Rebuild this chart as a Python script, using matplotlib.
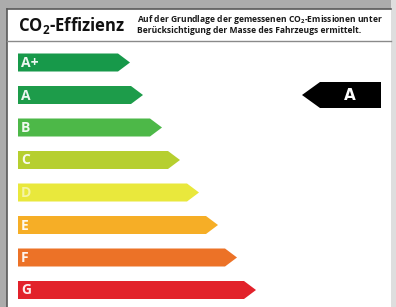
import matplotlib
matplotlib.use("Agg")
import matplotlib.pyplot as plt
from matplotlib.patches import Polygon, Rectangle

# ---- data ----
classes = ["A+", "A", "B", "C", "D", "E", "F", "G"]
bar_ends = [130, 143, 162, 180, 199, 218, 237, 256]   # tip extent of each class arrow
colors = ["#17994a", "#1d9c4a", "#4db848", "#b6cf2f", "#e9e83c", "#f6ae26", "#ec7227", "#e2222b"]
rating = "A"
title = "CO$_\\mathbf{2}$-Effizienz"
subtitle = ["Auf der Grundlage der gemessenen CO$_\\mathbf{2}$-Emissionen unter",
            "Berücksichtigung der Masse des Fahrzeugs ermittelt."]

plt.rcParams["mathtext.fontset"] = "custom"
plt.rcParams["mathtext.bf"] = "Open Sans:bold"
plt.rcParams["mathtext.rm"] = "Open Sans:bold"

W, H = 396, 307
fig = plt.figure(figsize=(W / 100, H / 100), dpi=100, facecolor="#acacac")
ax = fig.add_axes([0, 0, 1, 1])
ax.set_xlim(0, W)
ax.set_ylim(H, 0)
ax.axis("off")

# panel
ax.add_patch(Rectangle((7, 9), 384, 310, facecolor="white", edgecolor="none", zorder=1))
ax.plot([7, 391], [9, 9], color="#5a5a5a", lw=1.2, zorder=2)
ax.plot([7, 7], [9, 307], color="#5a5a5a", lw=1.2, zorder=2)
ax.plot([7, 391], [40.5, 40.5], color="#8a8a8a", lw=1.0, zorder=2)
ax.add_patch(Rectangle((391, 0), 5, 307, facecolor="#dedede", edgecolor="none", zorder=1))

# header
ax.text(18, 25, title, fontsize=12, fontweight="bold", family="Open Sans",
        va="center", ha="left", color="#111111", zorder=3)
ax.text(137, 19.5, subtitle[0], fontsize=6.1, fontweight="bold", family="Open Sans",
        va="center", ha="left", color="#1a1a1a", zorder=3)
ax.text(137, 30.5, subtitle[1], fontsize=6.1, fontweight="bold", family="Open Sans",
        va="center", ha="left", color="#1a1a1a", zorder=3)

# class arrows
x0 = 18
y_first = 62.5
step = 32.5
h = 18
tip = 12
centers = {}
for i, (cls, end, col) in enumerate(zip(classes, bar_ends, colors)):
    yc = y_first + i * step
    centers[cls] = yc
    pts = [(x0, yc - h / 2), (end - tip, yc - h / 2), (end, yc),
           (end - tip, yc + h / 2), (x0, yc + h / 2)]
    ax.add_patch(Polygon(pts, closed=True, facecolor=col, edgecolor="none", zorder=3))
    ax.text(x0 + 3, yc + 0.5, cls, fontsize=10, fontweight="bold", family="Open Sans",
            color="white", alpha=0.92 if cls != "D" else 0.55, va="center", ha="left", zorder=4)

# rating indicator
yc = centers[rating]
ah = 26
ax.add_patch(Polygon([(302, yc), (320, yc - ah / 2), (381, yc - ah / 2),
                      (381, yc + ah / 2), (320, yc + ah / 2)], closed=True,
                     facecolor="black", edgecolor="none", zorder=3))
ax.text(350, yc + 0.5, rating, fontsize=11, fontweight="bold", family="DejaVu Sans",
        color="white", va="center", ha="center", zorder=4)

fig.savefig("out.png", dpi=100, facecolor=fig.get_facecolor())
